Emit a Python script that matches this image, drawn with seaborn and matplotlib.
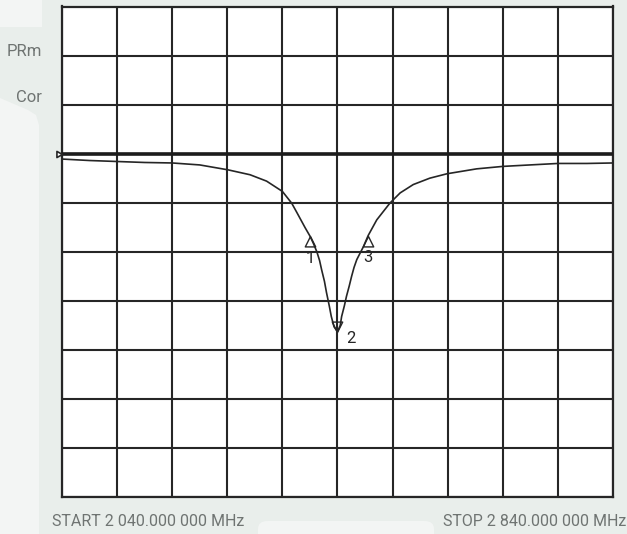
import numpy as np
import pandas as pd
import matplotlib
matplotlib.use("Agg")
import matplotlib.pyplot as plt
import seaborn as sns
from matplotlib.path import Path
from matplotlib.patches import Polygon, FancyBboxPatch, Rectangle

# trace (frequency in MHz, level in dB, 10 dB/div, ref 0 dB)
freq_mhz = [2040, 2080, 2120, 2160, 2200, 2240, 2281, 2313, 2337, 2360,
            2373.5, 2381, 2393, 2400, 2405, 2410, 2414, 2417, 2421, 2424,
            2428, 2431, 2435, 2440,
            2444, 2446, 2450, 2453, 2457, 2460.5, 2464, 2468, 2472, 2477.5,
            2484.5, 2497, 2516, 2531,
            2550, 2574, 2599, 2642, 2680, 2719.5, 2760, 2802, 2840]
level_db = [-1.1, -1.4, -1.6, -1.8, -1.9, -2.3, -3.3, -4.3, -5.6, -7.7,
            -10.1, -12.0, -15.1, -16.8, -18.3, -20.0, -21.8, -23.7, -26.0, -28.3,
            -31.0, -33.2, -35.3, -36.3,
            -35.0, -33.2, -31.0, -29.1, -27.0, -25.0, -23.2, -21.6, -20.5, -19.0,
            -16.7, -13.5, -10.1, -8.0,
            -6.3, -5.0, -4.1, -3.1, -2.6, -2.3, -2.0, -2.0, -1.9]

marker_ids = ["1", "2", "3"]
marker_freq = [2400, 2440, 2484.5]
marker_level = [-16.8, -36.3, -16.7]

start_label = "START 2 040.000 000 MHz"
stop_label = "STOP 2 840.000 000 MHz"
side_labels = ["PRm", "Cor"]

W, H = 627, 534
ink = "#262626"
txt = "#6f7472"

sns.set_theme(style="white", rc={"axes.edgecolor": ink, "axes.linewidth": 1.5})
plt.rcParams["font.family"] = ["Roboto", "DejaVu Sans"]

fig = plt.figure(figsize=(W / 100, H / 100), dpi=100, facecolor="#e9eeeb")


def fx(px):
    return px / W


def fy(py):
    return 1 - py / H


# lighter panels of the instrument screen
fig.patches.append(Rectangle((0, fy(27)), fx(42), 27 / H, transform=fig.transFigure,
                             facecolor="#f3f5f4", edgecolor="none", zorder=0))
fig.patches.append(Polygon([(fx(0), fy(98)), (fx(28), fy(110)), (fx(36), fy(115)),
                            (fx(39), fy(125)), (fx(39), fy(534)), (fx(0), fy(534))],
                           closed=True, transform=fig.transFigure,
                           facecolor="#f3f5f4", edgecolor="none", zorder=0))
fig.patches.append(FancyBboxPatch((fx(258), fy(545)), fx(176), 24 / H,
                                  boxstyle="round,pad=0,rounding_size=0.015",
                                  transform=fig.transFigure,
                                  facecolor="#f3f5f4", edgecolor="none", zorder=0))

ax = fig.add_axes([fx(62), fy(497), 551 / W, 490.5 / H])
ax.set_facecolor("white")

df = pd.DataFrame({"freq": freq_mhz, "level": level_db})
sns.lineplot(data=df, x="freq", y="level", ax=ax, color=ink, lw=1.2, zorder=4)

ax.set_xlim(2040, 2840)
ax.set_ylim(-70, 30)
ax.set_xticks(np.arange(2040, 2841, 80))
ax.set_yticks(np.arange(-70, 31, 10))
ax.tick_params(length=0, labelbottom=False, labelleft=False)
ax.set_xlabel("")
ax.set_ylabel("")
ax.grid(True, color=ink, lw=1.5)
for s in ax.spines.values():
    s.set_visible(True)
    s.set_color(ink)
    s.set_linewidth(1.6)

# reference level line and its indicator
ax.axhline(0, color="#1c1c1c", lw=2.6, zorder=3)
ref_mark = Path([(0, 0), (-1, 0.55), (-1, -0.55), (0, 0)],
                [Path.MOVETO, Path.LINETO, Path.LINETO, Path.CLOSEPOLY])
ax.plot([2040], [0], marker=ref_mark, ms=8, mfc="white", mec=ink, mew=1.2,
        clip_on=False, zorder=6)

# markers with apex on the trace
up = Path([(0, 0), (-0.5, -1), (0.5, -1), (0, 0)],
          [Path.MOVETO, Path.LINETO, Path.LINETO, Path.CLOSEPOLY])
down = Path([(0, 0), (-0.5, 1), (0.5, 1), (0, 0)],
            [Path.MOVETO, Path.LINETO, Path.LINETO, Path.CLOSEPOLY])
for mid, f, lv in zip(marker_ids, marker_freq, marker_level):
    m = down if mid == "2" else up
    ax.plot([f], [lv], marker=m, ms=15, mfc="none", mec=ink, mew=1.0, zorder=5)
    if mid == "2":
        ax.annotate(mid, (f, lv), xytext=(10, -5), textcoords="offset points",
                    ha="center", va="center", fontsize=12, color=ink)
    else:
        ax.annotate(mid, (f, lv), xytext=(0, -16), textcoords="offset points",
                    ha="center", va="center", fontsize=12, color=ink)

fig.text(fx(42), fy(52), side_labels[0], ha="right", va="center", fontsize=12,
         color=txt)
fig.text(fx(42), fy(97), side_labels[1], ha="right", va="center", fontsize=12,
         color=txt)
fig.text(fx(52), fy(522), start_label, ha="left", va="center", fontsize=11.5,
         color=txt)
fig.text(fx(626), fy(522), stop_label, ha="right", va="center", fontsize=11.5,
         color=txt)

fig.savefig("out.png", dpi=100, facecolor=fig.get_facecolor())
